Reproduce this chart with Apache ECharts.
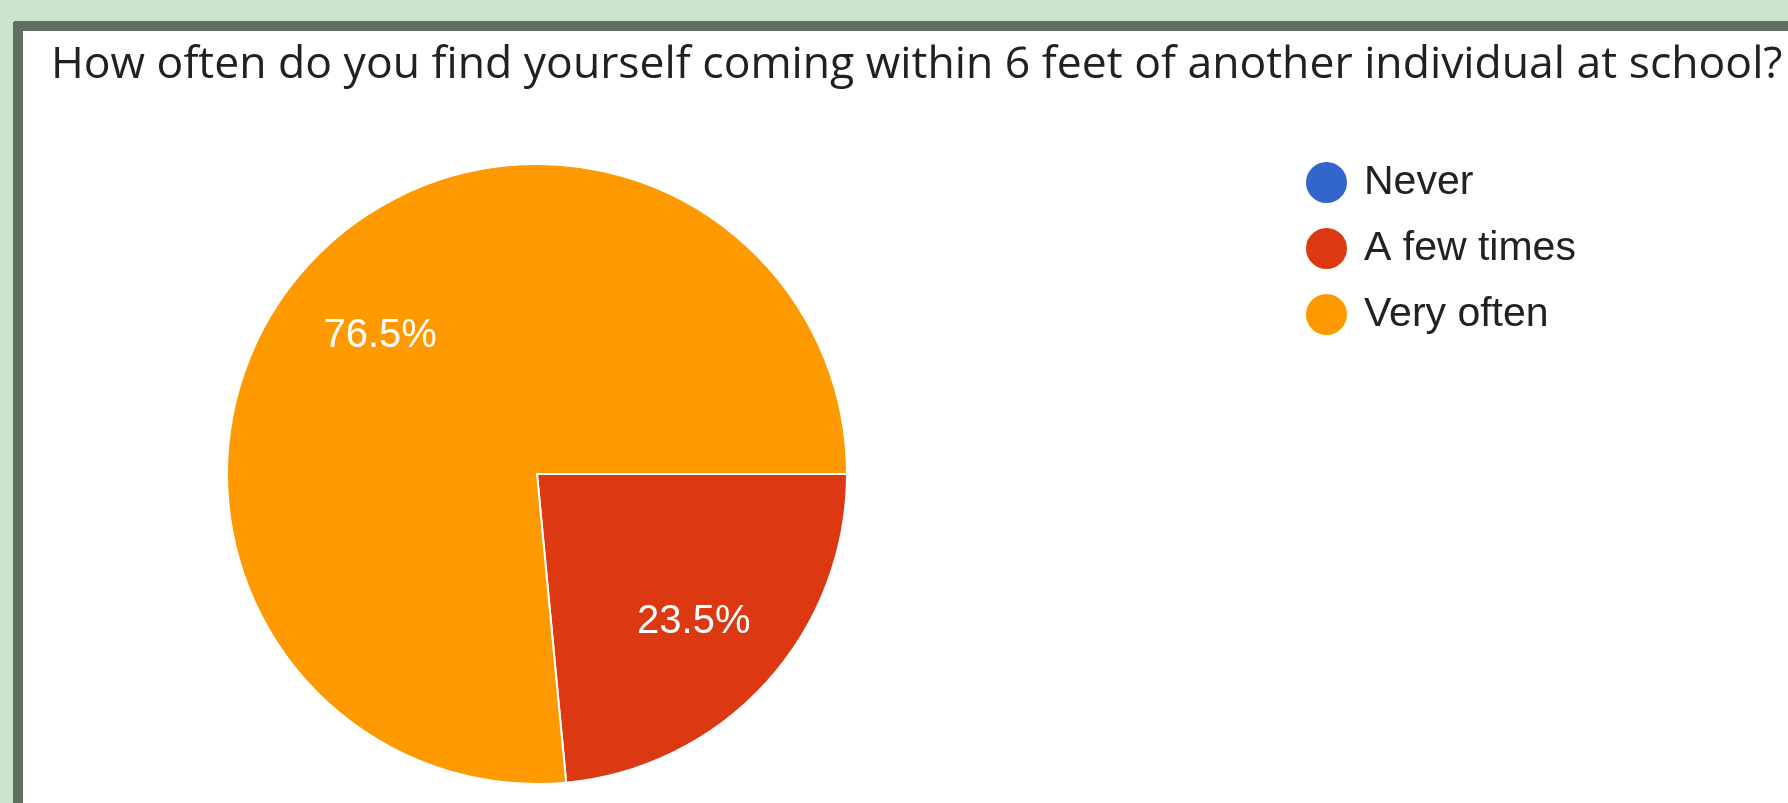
<!DOCTYPE html>
<html>
<head>
<meta charset="utf-8">
<script src="https://cdn.jsdelivr.net/npm/echarts@6/dist/echarts.min.js"></script>
<style>
  html, body { margin: 0; padding: 0; width: 1788px; height: 803px; overflow: hidden; background: #c9e4ca; }
  #frame {
    position: absolute; left: 13px; top: 21px; width: 1800px; height: 820px;
    background: #ffffff; border-top: 10px solid #5f6e60; border-left: 10px solid #5f6e60;
    border-top-left-radius: 3px;
  }
  #chart { position: absolute; left: 0; top: 0; width: 1788px; height: 803px; }
</style>
</head>
<body>
<div id="frame"></div>
<div id="chart"></div>
<script>
// Survey answers and their share of responses (percent)
const titleText = 'How often do you find yourself coming within 6 feet of another individual at school?';
const categories = ['Never', 'A few times', 'Very often'];
const shares = [0, 23.5, 76.5];
const colors = ['#3366cc', '#dc3912', '#ff9900'];

const pieData = categories.map((name, i) => ({ name, value: shares[i], itemStyle: { color: colors[i] } }));
// Second, invisible ring only carries the percentage labels further out from the centre
const labelData = categories.map((name, i) => ({
  name, value: shares[i],
  label: { show: shares[i] > 0 }
}));

const chart = echarts.init(document.getElementById('chart'), null, { renderer: 'canvas' });
chart.setOption({
  animation: false,
  title: {
    text: titleText,
    left: 46, top: 34,
    textStyle: { fontFamily: 'Open Sans', fontWeight: 'normal', fontSize: 44.5, color: '#202124', lineHeight: 52 }
  },
  legend: {
    orient: 'vertical',
    left: 1299, top: 155,
    icon: 'circle',
    itemWidth: 43, itemHeight: 43, itemGap: 21,
    selectedMode: false,
    data: categories.map((name, i) => ({ name, itemStyle: { color: colors[i] } })),
    textStyle: { fontFamily: 'Liberation Sans', fontSize: 41, color: '#222222', lineHeight: 43, padding: [0, 0, 0, 11] }
  },
  series: [
    {
      type: 'pie',
      center: [537, 474],
      radius: [0, 310],
      startAngle: 0,
      clockwise: true,
      silent: true,
      label: { show: false },
      labelLine: { show: false },
      itemStyle: { borderColor: '#ffffff', borderWidth: 2 },
      data: pieData
    },
    {
      type: 'pie',
      center: [537, 474],
      radius: [0, 418],
      startAngle: 0,
      clockwise: true,
      silent: true,
      legendHoverLink: false,
      itemStyle: { color: 'rgba(0,0,0,0)', borderWidth: 0 },
      labelLine: { show: false },
      label: {
        position: 'inside',
        offset: [0, 5],
        formatter: p => p.value.toFixed(1) + '%',
        fontFamily: 'Liberation Sans', fontSize: 40, color: '#ffffff'
      },
      data: labelData
    }
  ]
});
</script>
</body>
</html>
